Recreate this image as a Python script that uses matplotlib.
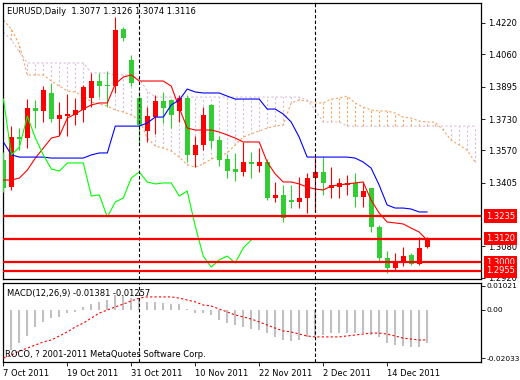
import matplotlib
matplotlib.use("Agg")
import matplotlib.pyplot as plt
import matplotlib.transforms as mtransforms

# daily EURUSD bars, 7 Oct 2011 .. 21 Dec 2011
opens = [1.3521, 1.3383, 1.3638, 1.3633, 1.3786, 1.3771, 1.3863, 1.3730, 1.3745, 1.3751,
         1.3776, 1.3837, 1.3924, 1.3904, 1.3898, 1.4189, 1.4031, 1.3837, 1.3669, 1.3740,
         1.3822, 1.3827, 1.3771, 1.3837, 1.3547, 1.3598, 1.3802, 1.3623, 1.3526, 1.3475,
         1.3460, 1.3511, 1.3490, 1.3511, 1.3327, 1.3343, 1.3317, 1.3307, 1.3327, 1.3429,
         1.3460, 1.3378, 1.3383, 1.3394, 1.3404, 1.3332, 1.3378, 1.3179, 1.3021, 1.2970,
         1.3006, 1.3037, 1.2991, 1.3077]
highs = [1.3562, 1.3694, 1.3684, 1.3832, 1.3827, 1.3898, 1.3914, 1.3817, 1.3858, 1.3837,
         1.3904, 1.3965, 1.3965, 1.3975, 1.4250, 1.4199, 1.4057, 1.3863, 1.3791, 1.3853,
         1.3868, 1.3830, 1.3853, 1.3853, 1.3643, 1.3791, 1.3807, 1.3643, 1.3552, 1.3557,
         1.3613, 1.3562, 1.3582, 1.3526, 1.3409, 1.3394, 1.3394, 1.3434, 1.3455, 1.3536,
         1.3536, 1.3485, 1.3429, 1.3445, 1.3455, 1.3409, 1.3380, 1.3190, 1.3057, 1.3047,
         1.3077, 1.3047, 1.3128, 1.3126]
lows = [1.3358, 1.3368, 1.3572, 1.3582, 1.3684, 1.3715, 1.3715, 1.3649, 1.3643, 1.3700,
        1.3715, 1.3791, 1.3842, 1.3791, 1.3863, 1.4128, 1.3898, 1.3608, 1.3613, 1.3654,
        1.3710, 1.3684, 1.3715, 1.3511, 1.3485, 1.3572, 1.3582, 1.3490, 1.3429, 1.3414,
        1.3439, 1.3429, 1.3460, 1.3317, 1.3307, 1.3205, 1.3276, 1.3276, 1.3251, 1.3256,
        1.3343, 1.3327, 1.3327, 1.3343, 1.3281, 1.3281, 1.3154, 1.3001, 1.2945, 1.2960,
        1.2980, 1.2986, 1.2986, 1.3074]
closes = [1.3378, 1.3638, 1.3628, 1.3786, 1.3771, 1.3878, 1.3730, 1.3751, 1.3756, 1.3776,
          1.3893, 1.3924, 1.3898, 1.3898, 1.4184, 1.4143, 1.3914, 1.3700, 1.3745, 1.3822,
          1.3786, 1.3751, 1.3837, 1.3547, 1.3598, 1.3751, 1.3618, 1.3521, 1.3465, 1.3460,
          1.3511, 1.3501, 1.3511, 1.3327, 1.3343, 1.3225, 1.3307, 1.3327, 1.3429, 1.3460,
          1.3404, 1.3394, 1.3404, 1.3404, 1.3332, 1.3363, 1.3179, 1.3021, 1.2970, 1.3006,
          1.3031, 1.2991, 1.3072, 1.3116]

# Ichimoku lines
tenkan = [1.3419, 1.3419, 1.3429, 1.3470, 1.3531, 1.3582, 1.3633, 1.3643, 1.3735, 1.3756,
          1.3781, 1.3802, 1.3812, 1.3812, 1.3909, 1.3944, 1.3955, 1.3924, 1.3924, 1.3924,
          1.3924, 1.3898, 1.3786, 1.3684, 1.3674, 1.3674, 1.3674, 1.3664, 1.3649, 1.3633,
          1.3613, 1.3613, 1.3613, 1.3511, 1.3450, 1.3409, 1.3409, 1.3399, 1.3383, 1.3373,
          1.3368, 1.3388, 1.3394, 1.3399, 1.3404, 1.3409, 1.3317, 1.3251, 1.3205, 1.3200,
          1.3195, 1.3174, 1.3154, 1.3113]
kijun = [1.3613, 1.3547, 1.3536, 1.3536, 1.3536, 1.3536, 1.3531, 1.3531, 1.3531, 1.3531,
         1.3531, 1.3547, 1.3557, 1.3557, 1.3694, 1.3694, 1.3694, 1.3694, 1.3710, 1.3740,
         1.3740, 1.3802, 1.3827, 1.3883, 1.3868, 1.3863, 1.3863, 1.3863, 1.3847, 1.3832,
         1.3832, 1.3832, 1.3832, 1.3781, 1.3781, 1.3756, 1.3715, 1.3638, 1.3536, 1.3536,
         1.3536, 1.3536, 1.3536, 1.3536, 1.3531, 1.3511, 1.3480, 1.3394, 1.3292, 1.3276,
         1.3276, 1.3271, 1.3256, 1.3256]
chikou = [1.3832, 1.3547, 1.3587, 1.3745, 1.3633, 1.3547, 1.3475, 1.3465, 1.3506, 1.3506,
          1.3506, 1.3337, 1.3343, 1.3230, 1.3307, 1.3327, 1.3429, 1.3460, 1.3409, 1.3399,
          1.3404, 1.3404, 1.3337, 1.3363, 1.3184, 1.3031, 1.2975, 1.3011, 1.3031, 1.2996,
          1.3072, 1.3113]
span_a = [1.4235, 1.4189, 1.4108, 1.3955, 1.3955, 1.3955, 1.3924, 1.3898, 1.3873, 1.3868,
          1.3847, 1.3817, 1.3807, 1.3796, 1.3776, 1.3766, 1.3751, 1.3725, 1.3633, 1.3592,
          1.3582, 1.3567, 1.3536, 1.3496, 1.3485, 1.3501, 1.3526, 1.3541, 1.3557, 1.3598,
          1.3638, 1.3654, 1.3669, 1.3684, 1.3694, 1.3700, 1.3812, 1.3827, 1.3822, 1.3812,
          1.3812, 1.3832, 1.3837, 1.3847, 1.3812, 1.3791, 1.3776, 1.3771, 1.3771, 1.3761,
          1.3740, 1.3735, 1.3720, 1.3715, 1.3715, 1.3674, 1.3623, 1.3598, 1.3572, 1.3511]
span_b = [1.4174, 1.4133, 1.4072, 1.4016, 1.4016, 1.4016, 1.4016, 1.4016, 1.4016, 1.4016,
          1.4016, 1.3965, 1.3965, 1.3965, 1.3955, 1.3955, 1.3955, 1.3934, 1.3873, 1.3842,
          1.3842, 1.3842, 1.3842, 1.3842, 1.3842, 1.3842, 1.3842, 1.3842, 1.3842, 1.3842,
          1.3842, 1.3842, 1.3842, 1.3842, 1.3842, 1.3842, 1.3842, 1.3842, 1.3827, 1.3776,
          1.3715, 1.3715, 1.3715, 1.3694, 1.3694, 1.3694, 1.3694, 1.3694, 1.3694, 1.3694,
          1.3694, 1.3694, 1.3694, 1.3694, 1.3694, 1.3694, 1.3694, 1.3694, 1.3694, 1.3694]

# MACD(12,26,9)
macd_hist = [-0.0193, -0.0168, -0.0139, -0.0109, -0.0071, -0.0050, -0.0034, -0.0029, -0.0013, -0.0008,
             0.0013, 0.0025, 0.0034, 0.0042, 0.0063, 0.0063, 0.0050, 0.0046, 0.0034, 0.0034,
             0.0029, 0.0025, 0.0025, 0.0004, -0.0013, -0.0013, -0.0021, -0.0042, -0.0055, -0.0063,
             -0.0071, -0.0080, -0.0084, -0.0097, -0.0113, -0.0126, -0.0130, -0.0126, -0.0113, -0.0109,
             -0.0105, -0.0097, -0.0097, -0.0097, -0.0097, -0.0097, -0.0105, -0.0113, -0.0139, -0.0147,
             -0.0151, -0.0155, -0.0155, -0.01381]
macd_signal = [-0.0202, -0.0189, -0.0172, -0.0160, -0.0147, -0.0134, -0.0126, -0.0109, -0.0092, -0.0071,
               -0.0055, -0.0034, -0.0013, 0.0000, 0.0013, 0.0025, 0.0038, 0.0050, 0.0055, 0.0055,
               0.0055, 0.0055, 0.0050, 0.0042, 0.0034, 0.0021, 0.0017, 0.0004, -0.0008, -0.0021,
               -0.0029, -0.0038, -0.0050, -0.0063, -0.0076, -0.0088, -0.0092, -0.0101, -0.0109, -0.0113,
               -0.0113, -0.0113, -0.0113, -0.0109, -0.0105, -0.0101, -0.0097, -0.0097, -0.0101, -0.0109,
               -0.0118, -0.0122, -0.0126, -0.01257]

level_prices = [1.3235, 1.3120, 1.3000, 1.2955]
price_ticks = [1.4220, 1.4060, 1.3895, 1.3730, 1.3570, 1.3405, 1.3080, 1.2920]
macd_ticks = [0.01021, 0.0, -0.02033]
macd_tick_labels = ["0.01021", "0.00", "-0.02033"]
date_pos = [0, 8, 16, 24, 32, 40, 48]
date_labels = ["7 Oct 2011", "19 Oct 2011", "31 Oct 2011", "10 Nov 2011",
               "22 Nov 2011", "2 Dec 2011", "14 Dec 2011"]
separators = [17, 39]

RED = "#FF0000"
CANDLE_GREEN = "#32CD32"
SANDY = "#F4A460"
THISTLE = "#D8BFD8"
FS = 6

plt.rcParams["font.family"] = "DejaVu Sans"
fig = plt.figure(figsize=(5.2, 3.8), dpi=100)
fig.set_facecolor("white")

W, H = 520.0, 380.0
ax = fig.add_axes([3 / W, 1 - 279 / H, 478 / W, 276 / H])
axm = fig.add_axes([3 / W, 1 - 362 / H, 478 / W, 79 / H])

xmax = 59.75
for a in (ax, axm):
    a.set_xlim(-0.05, xmax)
    for s in a.spines.values():
        s.set_color("black")
        s.set_linewidth(0.9)
    a.yaxis.tick_right()
    a.tick_params(axis="y", direction="out", length=3, width=0.6, pad=2,
                  labelsize=FS, colors="black")
    for xs in separators:
        a.axvline(xs, color="black", lw=0.8, ls=(0, (3, 2)), zorder=5)

ax.set_ylim(1.2914, 1.4322)
ax.set_xticks([])
ax.set_yticks(price_ticks)
ax.set_yticklabels([f"{p:.4f}" for p in price_ticks])

# cloud hatching between senkou spans
n_span = len(span_a)
for i in range(n_span):
    col = SANDY if span_a[i] >= span_b[i] else THISTLE
    ax.vlines(i, min(span_a[i], span_b[i]), max(span_a[i], span_b[i]),
              color=col, lw=0.8, linestyles=(0, (2, 2)), zorder=1)
ax.plot(range(n_span), span_a, color=SANDY, lw=0.8, ls=(0, (2, 2)), zorder=2)
ax.plot(range(n_span), span_b, color=THISTLE, lw=0.8, ls=(0, (2, 2)), zorder=2)

# candles
for i in range(len(opens)):
    o, h, l, c = opens[i], highs[i], lows[i], closes[i]
    col = RED if c >= o else CANDLE_GREEN
    ax.vlines(i, l, h, color=col, lw=0.8, zorder=3)
    ax.bar(i, max(abs(c - o), 0.0007), bottom=min(o, c), width=0.62,
           color=col, linewidth=0, zorder=3)

ax.plot(range(len(tenkan)), tenkan, color=RED, lw=0.8, zorder=4)
ax.plot(range(len(kijun)), kijun, color="#0000FF", lw=0.8, zorder=4)
ax.plot(range(len(chikou)), chikou, color="#00FF00", lw=0.8, zorder=4)

# support / resistance levels with price tags
blend = mtransforms.blended_transform_factory(ax.transAxes, ax.transData)
for p in level_prices:
    ax.axhline(p, color=RED, lw=1.6, zorder=6)
    ax.text(1.0 + 5 / 478, p, f"{p:.4f}", transform=blend, ha="left", va="center",
            fontsize=FS, color="white", clip_on=False, zorder=10,
            bbox=dict(boxstyle="square,pad=0.25", fc=RED, ec="none"))

ax.text(4 / 478, 0.971, "EURUSD,Daily  1.3077 1.3126 1.3074 1.3116",
        transform=ax.transAxes, fontsize=FS, va="center", ha="left", color="black")

# MACD panel
axm.set_ylim(-0.02184, 0.01134)
axm.vlines(range(len(macd_hist)), 0, macd_hist, color="#C0C0C0", lw=1.5, zorder=2)
axm.plot(range(len(macd_signal)), macd_signal, color=RED, lw=0.8, ls=(0, (2, 2)), zorder=3)
axm.set_yticks(macd_ticks)
axm.set_yticklabels(macd_tick_labels)
axm.tick_params(axis="y", labelsize=5.4, pad=1)
axm.set_xticks(date_pos)
axm.set_xticklabels(date_labels, ha="left")
axm.tick_params(axis="x", direction="out", length=3, width=0.6, pad=2,
                labelsize=FS, colors="black")
axm.text(4 / 478, 0.873, "MACD(12,26,9) -0.01381 -0.01257", transform=axm.transAxes,
         fontsize=FS, va="center", ha="left", color="black")
axm.text(2 / 478, 0.089, "ROCO, ? 2001-2011 MetaQuotes Software Corp.", transform=axm.transAxes,
         fontsize=FS, va="center", ha="left", color="black")

fig.savefig("out.png", dpi=100, facecolor="white")
